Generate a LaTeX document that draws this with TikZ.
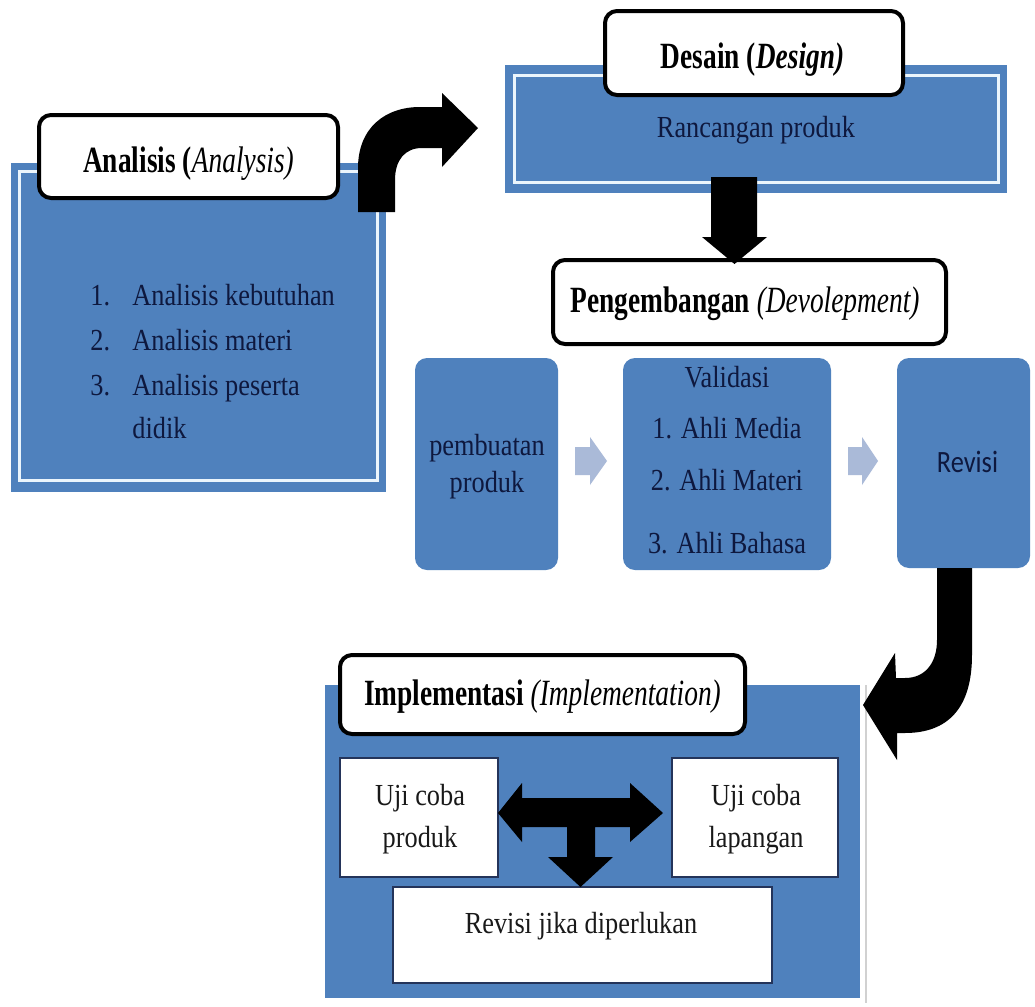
\documentclass[tikz,border=0pt]{standalone}
\usepackage{fontspec}
\setmainfont{Liberation Serif}
\newfontfamily\bodyf[FakeStretch=0.86]{Liberation Serif}
\newfontfamily\titlef[FakeStretch=0.74]{Liberation Serif}
\newfontfamily\revf[FakeStretch=0.85]{Carlito}
\usetikzlibrary{calc}
\definecolor{ofblue}{RGB}{79,129,189}
\definecolor{navytext}{RGB}{14,24,62}
\definecolor{innerwhite}{RGB}{235,245,252}
\definecolor{boxline}{RGB}{36,52,90}
\definecolor{lightarr}{RGB}{170,186,216}
\tikzset{
  bluebox/.style={fill=ofblue, inner sep=0pt, draw=none},
  rbluebox/.style={bluebox, rounded corners=6pt},
  titlebox/.style={draw=black, line width=2pt, fill=white, rounded corners=6pt, inner sep=0pt},
  whitebox/.style={draw=boxline, line width=0.8pt, fill=white, inner sep=0pt},
  ttext/.style={font=\titlef\fontsize{18.5}{20}\selectfont\bfseries, text=black, anchor=base, inner sep=0pt},
  btext/.style={font=\bodyf\fontsize{15.3}{18}\selectfont, text=navytext, anchor=base, inner sep=0pt},
  wtext/.style={btext, text=black!90},
  blockarrow/.style={fill=black},
  lightarrow/.style={fill=lightarr},
  innerline/.style={draw=innerwhite, line width=1.5pt},
}
\begin{document}
\begin{tikzpicture}[x=0.5pt,y=-0.5pt]
\useasboundingbox (0,0) rectangle (1035,1007);
\fill[white] (0,0) rectangle (1035,1007);

% ---------- Analysis ----------
\node[bluebox, minimum width=187.5pt, minimum height=164.5pt] (anbox) at (198.5,327.5) {};
\draw[innerline] ($(anbox.north west)+(9,9)$) rectangle ($(anbox.south east)+(-9,-12)$);
\node[titlebox, minimum width=149.5pt, minimum height=41.5pt] (antitle) at (188.5,156.5) {};
\node[ttext] (antext) at (188.5,172) {Analisis (\textit{\mdseries Analysis)}};
\node[btext, anchor=base west] (l1n) at (90,305) {1.};
\node[btext, anchor=base west] (l1t) at (132,305) {Analisis kebutuhan};
\node[btext, anchor=base west] (l2n) at (90,350) {2.};
\node[btext, anchor=base west] (l2t) at (132,350) {Analisis materi};
\node[btext, anchor=base west] (l3n) at (90,395) {3.};
\node[btext, anchor=base west] (l3t) at (132,395) {Analisis peserta};
\node[btext, anchor=base west] (l3b) at (132,438) {didik};

% ---------- Design ----------
\node[bluebox, minimum width=251pt, minimum height=64pt] (desbox) at (756,129) {};
\draw[innerline] ($(desbox.north west)+(10,11)$) rectangle ($(desbox.south east)+(-9,-11)$);
\node[titlebox, minimum width=149pt, minimum height=42pt] (destitle) at (754,53) {};
\node[ttext] (destext) at (752.5,68) {Desain (\textit{Design)}};
\node[btext] (rancangan) at (756,137) {Rancangan produk};

% curved arrow analysis -> design
\fill[blockarrow] (358,212) -- (358,168) .. controls (358,128) and (385,107) .. (420,107)
  -- (442,107) -- (442,93) -- (478,128) -- (442,167) -- (442,148) -- (422,148)
  .. controls (405,148) and (395,160) .. (395,180) -- (395,212) -- cycle;

% ---------- Development ----------
\node[titlebox, minimum width=196.5pt, minimum height=42pt] (devtitle) at (749.5,302) {};
\node[ttext] (devtext) at (745,312) {Pengembangan \textit{\mdseries (Devolepment)}};

% down arrow design -> development
\fill[blockarrow] (711,177) -- (757,177) -- (757,237) -- (767,237) -- (734.5,264) -- (702,237) -- (711,237) -- cycle;

\node[rbluebox, minimum width=71.5pt, minimum height=106pt] (pemb) at (486.5,464) {};
\node[rbluebox, minimum width=104pt, minimum height=106pt] (valid) at (727,464) {};
\node[rbluebox, minimum width=66.5pt, minimum height=105pt] (revbox) at (963.5,463) {};

\node[btext] (pemb1) at (487,455) {pembuatan};
\node[btext] (pemb2) at (487,492) {produk};
\node[btext] (val0) at (727,387) {Validasi};
\node[btext] (val1) at (727,438) {1. Ahli Media};
\node[btext] (val2) at (727,490) {2. Ahli Materi};
\node[btext] (val3) at (727,553) {3. Ahli Bahasa};
\node[btext, font=\revf\fontsize{15.5}{18}\selectfont] (revtext) at (967.5,472) {Revisi};

\fill[lightarrow] (575,447) -- (590,447) -- (590,437) -- (607,461) -- (590,485) -- (590,475) -- (575,475) -- cycle;
\fill[lightarrow] (848,447) -- (862,447) -- (862,437) -- (878,461) -- (862,485) -- (862,475) -- (848,475) -- cycle;

% ---------- Implementation ----------
\draw[black!18, line width=0.7pt] (866,685) -- (866,1003);
\node[bluebox, minimum width=267.5pt, minimum height=156.5pt] (impbox) at (592.5,841.5) {};
\node[titlebox, minimum width=202.5pt, minimum height=39.5pt] (imptitle) at (542.5,694.5) {};
\node[ttext] (imptext) at (542.5,705) {Implementasi \textit{\mdseries (Implementation)}};

% curved arrow revisi -> implementation
\fill[blockarrow] (937,568) -- (972,568) -- (972,655) .. controls (972,708) and (948,733) .. (905,733)
  -- (897,733) -- (897,760) -- (863,705) -- (895,653) -- (896,678) -- (905,678)
  .. controls (926,678) and (937,662) .. (937,640) -- cycle;

\node[whitebox, minimum width=79pt, minimum height=59.5pt] (ujip) at (419,817.5) {};
\node[whitebox, minimum width=83pt, minimum height=59.5pt] (ujil) at (755,817.5) {};
\node[whitebox, minimum width=189.5pt, minimum height=48pt] (revj) at (582.5,935) {};
\node[wtext] (ujip1) at (420,805) {Uji coba};
\node[wtext] (ujip2) at (420,847) {produk};
\node[wtext] (ujil1) at (756,805) {Uji coba};
\node[wtext] (ujil2) at (756,847) {lapangan};
\node[wtext] (revjt) at (581,933) {Revisi jika diperlukan};

% T arrow
\fill[blockarrow] (498,813) -- (522,783) -- (522,798) -- (630,798) -- (630,783) -- (663,813)
  -- (630,842) -- (630,827) -- (595,827) -- (595,857) -- (613,857) -- (580.5,887)
  -- (548,857) -- (567,857) -- (567,827) -- (522,827) -- (522,842) -- cycle;
\end{tikzpicture}
\end{document}
